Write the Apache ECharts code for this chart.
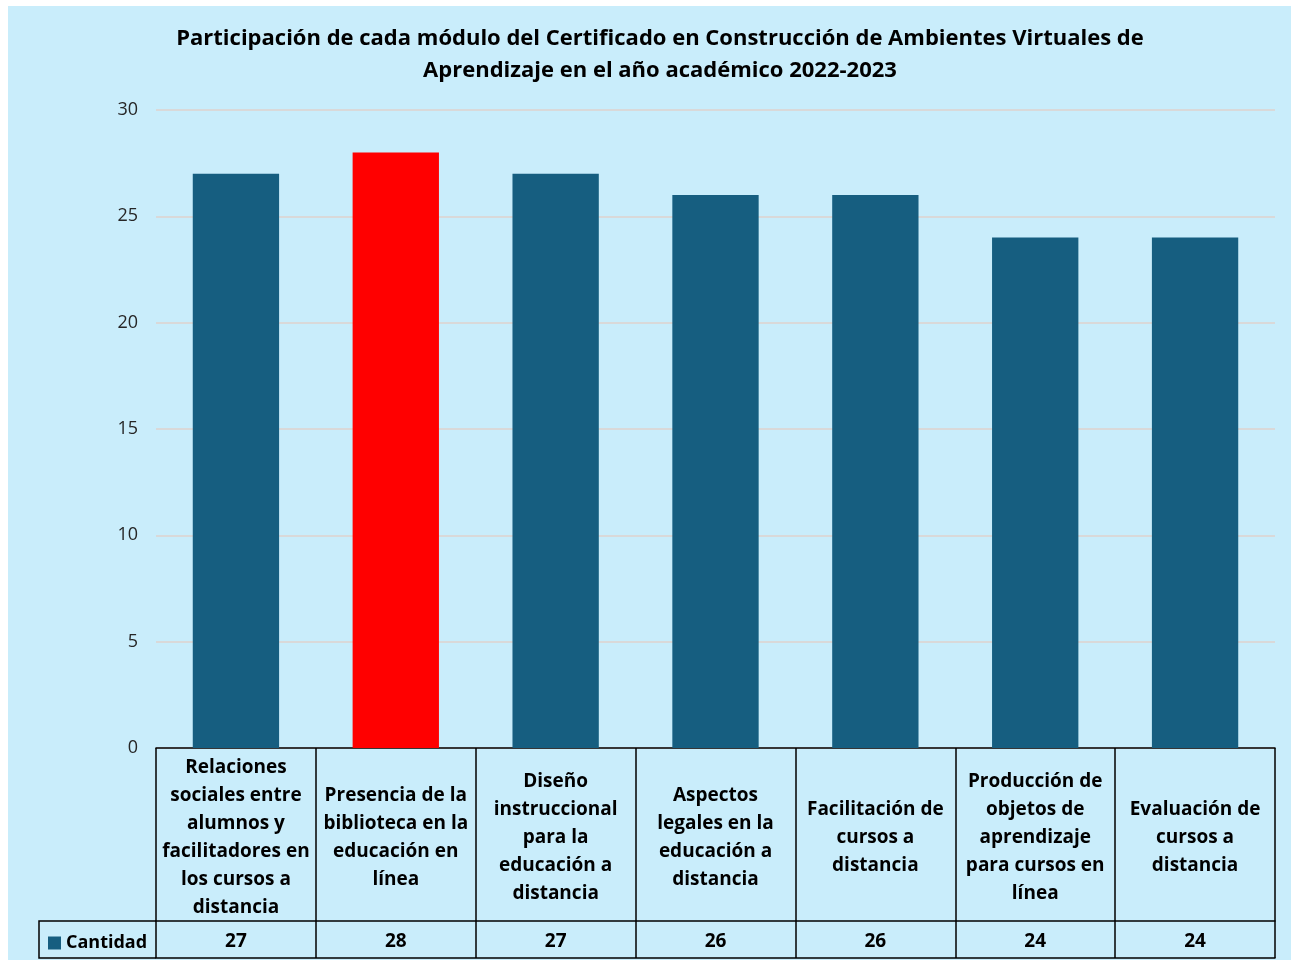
<!DOCTYPE html>
<html>
<head>
<meta charset="utf-8" />
<title>Participación por módulo</title>
<style>
  html, body { margin: 0; padding: 0; background: #ffffff; }
  #chart { position: absolute; left: 8px; top: 6px; width: 1283px; height: 954px; }
</style>
</head>
<body>
<div id="chart"></div>
<script src="https://cdn.jsdelivr.net/npm/echarts@6/dist/echarts.min.js"></script>
<script type="text/javascript">
  // módulos del certificado (con los cortes de línea del original)
  var modulos = [
    'Relaciones\nsociales entre\nalumnos y\nfacilitadores en\nlos cursos a\ndistancia',
    'Presencia de la\nbiblioteca en la\neducación en\nlínea',
    'Diseño\ninstruccional\npara la\neducación a\ndistancia',
    'Aspectos\nlegales en la\neducación a\ndistancia',
    'Facilitación de\ncursos a\ndistancia',
    'Producción de\nobjetos de\naprendizaje\npara cursos en\nlínea',
    'Evaluación de\ncursos a\ndistancia'
  ];
  var cantidad = [27, 28, 27, 26, 26, 24, 24];
  var resaltado = 1; // barra en rojo
  var yTicks = { min: 0, max: 30, interval: 5 };

  var azul = '#165E80';
  var rojo = '#FF0000';
  var fuente = '"Open Sans", "Noto Sans", sans-serif';

  var datosBarras = cantidad.map(function (v, i) {
    return i === resaltado ? { value: v, itemStyle: { color: rojo } } : v;
  });

  var chart = echarts.init(document.getElementById('chart'));

  var option = {
    backgroundColor: '#C9EDFB',
    textStyle: { fontFamily: fuente },
    title: {
      text: 'Participación de cada módulo del Certificado en Construcción de Ambientes Virtuales de\nAprendizaje en el año académico 2022-2023',
      left: 647,
      top: 12,
      textAlign: 'center',
      textStyle: { fontSize: 22, fontWeight: 'bold', color: '#000', lineHeight: 32, fontFamily: fuente }
    },
    legend: {
      left: 35,
      top: 923,
      icon: 'rect',
      itemWidth: 13,
      itemHeight: 13,
      itemGap: 6,
      textStyle: { fontSize: 18, fontWeight: 'bold', color: '#000', fontFamily: fuente },
      data: ['Cantidad']
    },
    grid: { left: 148, top: 104, width: 1119, height: 638 },
    xAxis: [{
      type: 'category',
      data: modulos,
      axisLine: { lineStyle: { color: '#000', width: 1.5 } },
      axisTick: { show: true, interval: 0, length: 210, lineStyle: { color: '#000', width: 1.5 } },
      axisLabel: {
        interval: 0, margin: 90, verticalAlign: 'middle', align: 'center',
        fontSize: 19, fontWeight: 'bold', color: '#000', lineHeight: 28, fontFamily: fuente
      }
    }, {
      type: 'category',
      position: 'bottom',
      offset: 173,
      data: modulos,
      axisLine: { lineStyle: { color: '#000', width: 1.5 } },
      axisTick: { show: false },
      axisLabel: {
        interval: 0, margin: 21, verticalAlign: 'middle',
        fontSize: 19, fontWeight: 'bold', color: '#000', fontFamily: fuente,
        formatter: function (v, i) { return String(cantidad[i]); }
      }
    }, {
      type: 'category',
      position: 'bottom',
      offset: 210,
      data: modulos,
      axisLine: { lineStyle: { color: '#000', width: 1.5 } },
      axisTick: { show: false },
      axisLabel: { show: false }
    }],
    yAxis: {
      type: 'value',
      min: yTicks.min,
      max: yTicks.max,
      interval: yTicks.interval,
      axisLine: { show: false },
      axisTick: { show: false },
      axisLabel: { fontSize: 18, color: '#262626', margin: 18, fontFamily: fuente },
      splitLine: { lineStyle: { color: '#D9D9D9', width: 2 } }
    },
    graphic: [{
      type: 'polyline',
      shape: { points: [[148, 915], [31, 915], [31, 952], [148, 952]] },
      style: { stroke: '#000', lineWidth: 1.5, fill: null },
      silent: true
    }],
    series: [{
      name: 'Cantidad',
      type: 'bar',
      xAxisIndex: 0,
      barWidth: '54%',
      itemStyle: { color: azul },
      data: datosBarras
    }]
  };

  chart.setOption(option);
</script>
</body>
</html>
